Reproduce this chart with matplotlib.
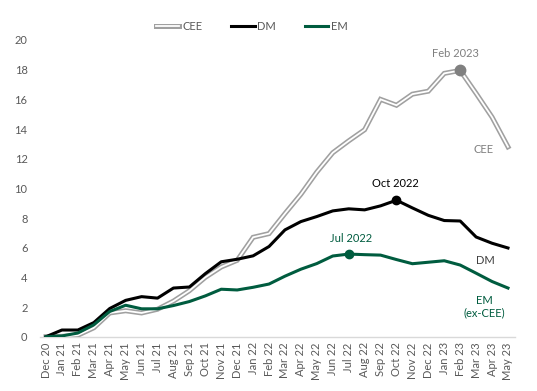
import matplotlib
matplotlib.use("Agg")
import matplotlib.pyplot as plt
from matplotlib.lines import Line2D
from matplotlib.legend_handler import HandlerTuple

plt.rcParams['font.family'] = ['Lato', 'DejaVu Sans']

months = ["Dec 20", "Jan 21", "Feb 21", "Mar 21", "Apr 21", "May 21", "Jun 21", "Jul 21",
          "Aug 21", "Sep 21", "Oct 21", "Nov 21", "Dec 21", "Jan 22", "Feb 22", "Mar 22",
          "Apr 22", "May 22", "Jun 22", "Jul 22", "Aug 22", "Sep 22", "Oct 22", "Nov 22",
          "Dec 22", "Jan 23", "Feb 23", "Mar 23", "Apr 23", "May 23"]

cee = [0.0, 0.02, 0.1, 0.6, 1.6, 1.75, 1.6, 1.85, 2.4, 3.1, 4.0, 4.7, 5.15, 6.7, 6.95,
       8.3, 9.6, 11.1, 12.4, 13.2, 13.95, 16.0, 15.6, 16.35, 16.55, 17.75, 17.95, 16.4,
       14.8, 12.8]
dm = [0.0, 0.45, 0.45, 0.95, 1.9, 2.45, 2.7, 2.6, 3.28, 3.35, 4.25, 5.05, 5.22, 5.45,
      6.08, 7.2, 7.76, 8.1, 8.48, 8.62, 8.55, 8.82, 9.2, 8.68, 8.18, 7.83, 7.8, 6.72,
      6.3, 5.98]
em = [0.0, 0.05, 0.25, 0.8, 1.7, 2.12, 1.88, 1.88, 2.1, 2.37, 2.75, 3.2, 3.15, 3.33,
      3.55, 4.08, 4.55, 4.93, 5.44, 5.57, 5.53, 5.5, 5.2, 4.92, 5.02, 5.12, 4.83, 4.28,
      3.72, 3.28]

yticks = [0, 2, 4, 6, 8, 10, 12, 14, 16, 18, 20]

W, H = 537, 391
fig = plt.figure(figsize=(W / 100, H / 100), dpi=100)
ax = fig.add_axes([40 / W, 1 - 336.7 / H, 475 / W, (336.7 - 40) / H])

x = list(range(len(months)))
gray = "#a0a0a0"
green = "#005c3f"
tick_col = "#595959"

c1, = ax.plot(x, cee, color=gray, lw=3.6, solid_joinstyle="miter", zorder=3)
c2, = ax.plot(x, cee, color="white", lw=1.3, solid_joinstyle="miter", zorder=3.1)
d1, = ax.plot(x, dm, color="black", lw=2.2, zorder=4)
e1, = ax.plot(x, em, color=green, lw=2.2, zorder=5)

i_cee = months.index("Feb 23")
i_dm = months.index("Oct 22")
i_em = months.index("Jul 22")
ax.plot([i_cee], [cee[i_cee]], "o", color="#808080", ms=7.5, zorder=6)
ax.plot([i_dm], [dm[i_dm]], "o", color="black", ms=6, zorder=6)
ax.plot([i_em], [em[i_em]], "o", color=green, ms=6, zorder=6)

ax.set_xlim(-0.377, 29.44)
ax.set_ylim(0, 20)
ax.set_yticks(yticks)
ax.set_xticks(x)
ax.set_xticklabels(months, rotation=90, fontsize=8, color=tick_col)
ax.tick_params(axis="y", length=0, pad=9, labelsize=8, labelcolor=tick_col)
ax.tick_params(axis="x", length=0, pad=4)
for s in ["top", "right", "left"]:
    ax.spines[s].set_visible(False)
ax.spines["bottom"].set_color("#d9d9d9")
ax.spines["bottom"].set_linewidth(1.0)

def ft(px, py, s, color, **kw):
    fig.text(px / W, 1 - py / H, s, color=color, ha="center", va="center", fontsize=8, **kw)

ft(455, 53.3, "Feb 2023", "#7f7f7f")
ft(484, 150, "CEE", "#7f7f7f")
ft(395.7, 183.3, "Oct 2022", "black")
ft(485.7, 260.7, "DM", "#404040")
ft(351, 238.3, "Jul 2022", green)
ft(484, 306.5, "EM\n(ex-CEE)", green, linespacing=1.15)

leg = fig.legend([(c1, c2), d1, e1], ["CEE", "DM", "EM"],
                 handler_map={tuple: HandlerTuple(ndivide=1)},
                 loc="center", bbox_to_anchor=(252 / W, 1 - 26 / H), ncol=3,
                 frameon=False, fontsize=8, handlelength=2.1, handletextpad=0.25,
                 columnspacing=2.6)
for t in leg.get_texts():
    t.set_color(tick_col)

fig.savefig("out.png", dpi=100)
